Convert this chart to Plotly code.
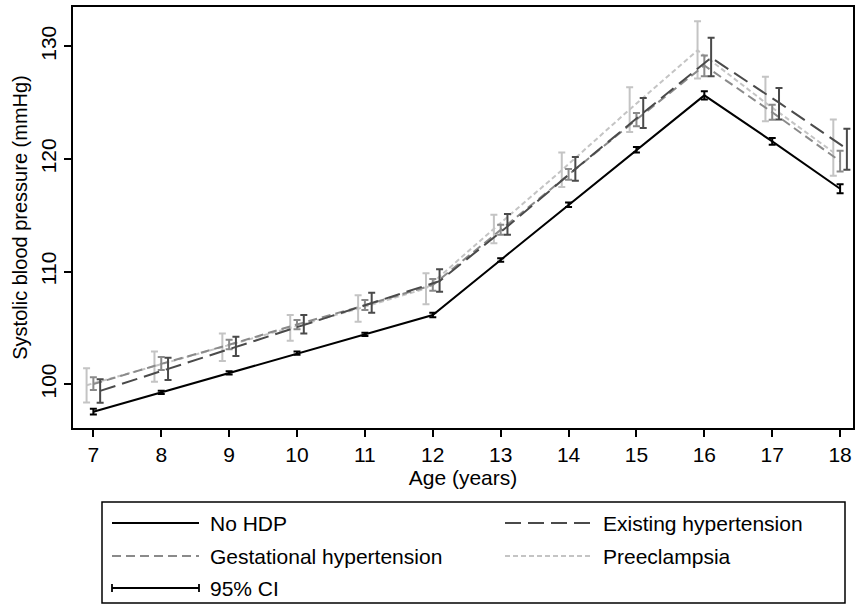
import plotly.graph_objects as go

ages = [7, 8, 9, 10, 11, 12, 13, 14, 15, 16, 17, 18]

# No HDP
nohdp_mean = [97.55, 99.27, 101.0, 102.75, 104.42, 106.14, 111.03, 115.93, 120.82, 125.65, 121.56, 117.35]
nohdp_lo = [97.3, 99.12, 100.85, 102.6, 104.27, 105.94, 110.88, 115.73, 120.57, 125.28, 121.26, 116.95]
nohdp_hi = [97.8, 99.42, 101.15, 102.9, 104.57, 106.34, 111.18, 116.13, 121.07, 126.02, 121.86, 117.75]

# Existing hypertension
exist_mean = [99.4, 101.35, 103.35, 105.3, 107.2, 109.15, 114.0, 119.1, 124.1, 129.0, 125.0, 120.9]
exist_lo = [98.34, 100.36, 102.5, 104.5, 106.34, 108.2, 113.26, 118.06, 122.75, 127.34, 123.5, 119.04]
exist_hi = [100.44, 102.34, 104.2, 106.14, 108.12, 110.2, 115.1, 120.17, 125.42, 130.76, 126.3, 122.69]

# Gestational hypertension
gest_mean = [100.0, 101.8, 103.5, 105.3, 107.0, 108.8, 113.7, 118.6, 123.5, 128.3, 124.15, 119.8]
gest_lo = [99.47, 101.25, 103.1, 104.87, 106.58, 108.3, 113.26, 118.15, 122.9, 127.34, 123.49, 118.89]
gest_hi = [100.6, 102.4, 103.95, 105.69, 107.47, 109.34, 114.15, 119.1, 124.08, 129.2, 124.82, 120.73]

# Preeclampsia
pre_mean = [99.9, 101.6, 103.3, 105.0, 106.7, 108.5, 113.8, 119.0, 124.4, 129.65, 125.0, 120.6]
pre_lo = [98.37, 100.2, 102.05, 103.85, 105.54, 107.09, 112.52, 117.5, 122.4, 127.14, 123.34, 118.5]
pre_hi = [101.4, 102.9, 104.5, 106.14, 107.9, 109.85, 115.04, 120.58, 126.36, 132.23, 127.3, 123.5]

x_ticks = [7, 8, 9, 10, 11, 12, 13, 14, 15, 16, 17, 18]
y_ticks = [100, 110, 120, 130]

FONT = "Liberation Sans, Arial, sans-serif"
FS = 21

series = [
    # name, mean, lo, hi, x offset, color, dash, width
    ("Preeclampsia", pre_mean, pre_lo, pre_hi, -0.1, "#c4c4c4", "5px,3px", 2),
    ("Gestational hypertension", gest_mean, gest_lo, gest_hi, 0.0, "#8a8a8a", "9px,5px", 2),
    ("Existing hypertension", exist_mean, exist_lo, exist_hi, 0.1, "#4a4a4a", "16px,7px", 2),
    ("No HDP", nohdp_mean, nohdp_lo, nohdp_hi, 0.0, "#000000", "solid", 2),
]

fig = go.Figure()
for name, m, lo, hi, off, col, dash, w in series:
    xs = [a + off for a in ages]
    fig.add_trace(go.Scatter(
        x=xs, y=m, mode="lines", name=name,
        line=dict(color=col, dash=dash, width=w),
        error_y=dict(type="data", symmetric=False,
                     array=[h - v for h, v in zip(hi, m)],
                     arrayminus=[v - l for l, v in zip(lo, m)],
                     color=col, thickness=2, width=3.5),
        showlegend=False,
    ))

PL, PR, PT, PB = 73, 853, 7, 428
W, H = 856, 608

def px(x):
    return (x - PL) / (PR - PL)

def py(y):
    return (PB - y) / (PB - PT)

shapes = []
annotations = []
# legend box
shapes.append(dict(type="rect", xref="paper", yref="paper",
                   x0=px(102), x1=px(845), y0=py(502), y1=py(603),
                   line=dict(color="black", width=1.5), fillcolor="rgba(0,0,0,0)"))

legend_items = [
    ("No HDP", "#000000", "solid", 112, 199, 208, 523),
    ("Existing hypertension", "#4a4a4a", "16px,7px", 505, 590, 601, 523),
    ("Gestational hypertension", "#8a8a8a", "9px,5px", 112, 199, 208, 556),
    ("Preeclampsia", "#c4c4c4", "5px,3px", 505, 590, 601, 556),
]
for label, col, dash, x0, x1, tx, yy in legend_items:
    shapes.append(dict(type="line", xref="paper", yref="paper",
                       x0=px(x0), x1=px(x1), y0=py(yy), y1=py(yy),
                       line=dict(color=col, width=2, dash=dash)))
    annotations.append(dict(text=label, xref="paper", yref="paper",
                            x=px(tx), y=py(yy), xanchor="left", yanchor="middle",
                            showarrow=False, font=dict(family=FONT, size=FS, color="black")))

# 95% CI item
yy = 588
shapes.append(dict(type="line", xref="paper", yref="paper",
                   x0=px(112), x1=px(199), y0=py(yy), y1=py(yy),
                   line=dict(color="black", width=1.8)))
for xc in (112, 199):
    shapes.append(dict(type="line", xref="paper", yref="paper",
                       x0=px(xc), x1=px(xc), y0=py(yy - 4), y1=py(yy + 4),
                       line=dict(color="black", width=1.8)))
annotations.append(dict(text="95% CI", xref="paper", yref="paper",
                        x=px(208), y=py(yy), xanchor="left", yanchor="middle",
                        showarrow=False, font=dict(family=FONT, size=FS, color="black")))

fig.update_layout(
    width=W, height=H,
    margin=dict(l=PL, r=W - PR, t=PT, b=H - PB, autoexpand=False),
    paper_bgcolor="white", plot_bgcolor="white",
    font=dict(family=FONT, size=FS, color="black"),
    shapes=shapes, annotations=annotations,
    showlegend=False,
)
fig.update_xaxes(
    range=[6.7, 18.19], tickmode="array", tickvals=x_ticks,
    ticktext=[str(t) for t in x_ticks],
    showgrid=False, zeroline=False, automargin=False,
    showline=True, linecolor="black", linewidth=1.5, mirror=True,
    ticks="outside", ticklen=7, tickwidth=1.5, tickcolor="black",
    title=dict(text="Age (years)", font=dict(family=FONT, size=FS), standoff=2),
    tickfont=dict(family=FONT, size=FS),
)
fig.update_yaxes(
    range=[96.1, 133.5], tickmode="array", tickvals=y_ticks,
    ticktext=[str(t) for t in y_ticks],
    showgrid=False, zeroline=False, automargin=False,
    showline=True, linecolor="black", linewidth=1.5, mirror=True,
    ticks="outside", ticklen=7, tickwidth=1.5, tickcolor="black",
    tickangle=-90,
    title=dict(text="Systolic blood pressure (mmHg)", font=dict(family=FONT, size=20), standoff=4),
    tickfont=dict(family=FONT, size=FS),
)

fig.write_html("out.html", config={"displayModeBar": False},
               post_script="document.body.style.margin='0';")
